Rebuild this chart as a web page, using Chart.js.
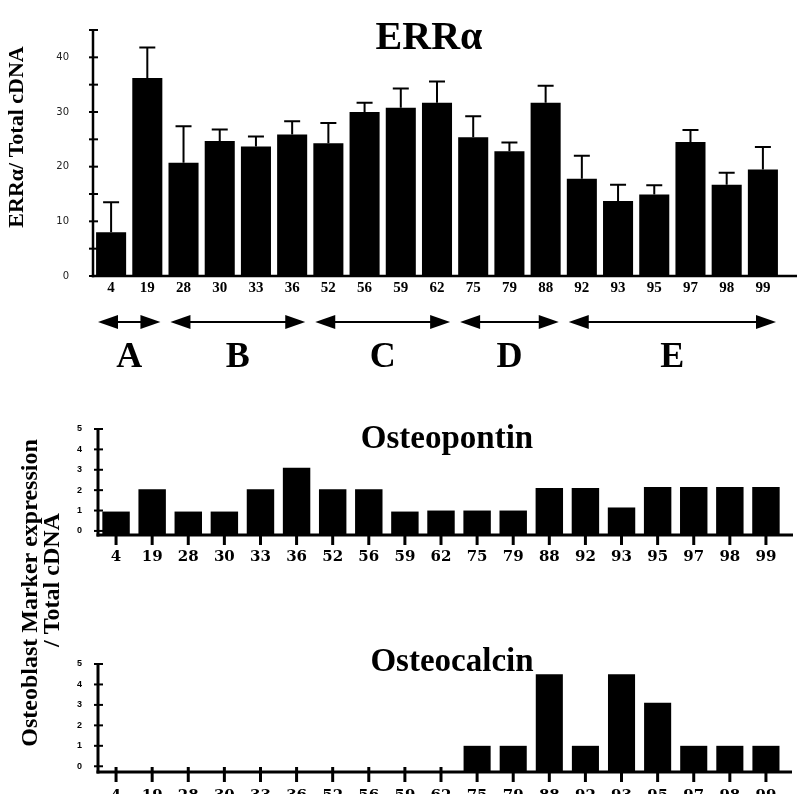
<!DOCTYPE html>
<html>
<head>
<meta charset="utf-8">
<script src="https://cdn.jsdelivr.net/npm/chart.js@4.4.0/dist/chart.umd.min.js"></script>
<style>
html,body{margin:0;padding:0;background:#fff;}
#wrap{position:relative;width:797px;height:794px;overflow:hidden;background:#fff;}
#wrap canvas{position:absolute;left:0;top:0;}
</style>
</head>
<body>
<div id="wrap">
<canvas id="c1" width="797" height="794"></canvas>
<canvas id="c2" width="797" height="794"></canvas>
<canvas id="c3" width="797" height="794"></canvas>
</div>
<script>
// ---------- data ----------
const clones = ['4','19','28','30','33','36','52','56','59','62','75','79','88','92','93','95','97','98','99'];
const errAlpha = [8.0,36.2,20.7,24.7,23.7,25.9,24.3,30.0,30.8,31.7,25.4,22.8,31.7,17.8,13.7,14.9,24.5,16.7,19.5];
const errAlphaSE = [5.5,5.6,6.7,2.1,1.8,2.4,3.7,1.7,3.5,3.9,3.8,1.6,3.1,4.2,3.0,1.7,2.2,2.2,4.1];
const osteopontin = [0.95,2.05,0.95,0.95,2.05,3.1,2.05,2.05,0.95,1.0,1.0,1.0,2.1,2.1,1.15,2.15,2.15,2.15,2.15];
const osteocalcin = [0,0,0,0,0,0,0,0,0,0,1,1,4.5,1,4.5,3.1,1,1,1];
const errTickValues = [0,5,10,15,20,25,30,35,40,45];
const errTickLabels = ['0','','10','','20','','30','','40',''];
const markerTickValues = [0,1,2,3,4,5];
const markerTickLabels = ['0','1','2','3','4','5'];
const groupNames = ['A','B','C','D','E'];
const groupFirst = [0,2,6,10,13];
const groupLast = [1,5,9,12,18];

const serif = "'Liberation Serif','Times New Roman',serif";

// ---------- decoration plugin (axes, ticks, error bars, arrows, texts) ----------
const deco = {
  id: 'deco',
  afterDraw(chart, args, o) {
    const ctx = chart.ctx, ca = chart.chartArea, xs = chart.scales.x, ys = chart.scales.y;
    ctx.save();
    ctx.strokeStyle = '#000'; ctx.fillStyle = '#000'; ctx.lineCap = 'butt';
    // error bars
    chart.data.datasets.forEach((ds, di) => {
      if (!ds.errorPlus) return;
      ctx.lineWidth = o.errWidth || 2;
      chart.getDatasetMeta(di).data.forEach((bar, i) => {
        const v = ds.data[i], e = ds.errorPlus[i];
        if (v == null || e == null) return;
        const p0 = ys.getPixelForValue(v), p1 = ys.getPixelForValue(v + e);
        ctx.beginPath();
        ctx.moveTo(bar.x, p0); ctx.lineTo(bar.x, p1);
        ctx.moveTo(bar.x - o.capHalf, p1); ctx.lineTo(bar.x + o.capHalf, p1);
        ctx.stroke();
      });
    });
    // axis lines
    const yTop = ys.getPixelForValue(ys.max);
    ctx.lineWidth = o.axisWidth;
    ctx.beginPath(); ctx.moveTo(ca.left, yTop); ctx.lineTo(ca.left, ca.bottom + o.axisWidth / 2); ctx.stroke();
    ctx.beginPath(); ctx.moveTo(ca.left - o.axisWidth / 2, ca.bottom); ctx.lineTo(o.xAxisTo, ca.bottom); ctx.stroke();
    // y ticks
    ctx.lineWidth = o.yTickWidth;
    ys.ticks.forEach(t => {
      const p = ys.getPixelForValue(t.value);
      ctx.beginPath(); ctx.moveTo(ca.left - o.yTickOut, p); ctx.lineTo(ca.left + o.yTickIn, p); ctx.stroke();
    });
    // x ticks
    if (o.xTickDown) {
      ctx.lineWidth = o.xTickWidth;
      xs.ticks.forEach((t, i) => {
        const p = xs.getPixelForValue(i);
        ctx.beginPath(); ctx.moveTo(p, ca.bottom - o.xTickUp); ctx.lineTo(p, ca.bottom + o.xTickDown); ctx.stroke();
      });
    }
    // group arrows
    if (o.groups) {
      const g = o.groups;
      g.names.forEach((n, k) => {
        const xa = xs.getPixelForValue(g.first[k] - 0.5) + g.gap;
        const xb = xs.getPixelForValue(g.last[k] + 0.5) - g.gap;
        const yy = g.y;
        ctx.lineWidth = 2;
        ctx.beginPath(); ctx.moveTo(xa + g.head * 0.5, yy); ctx.lineTo(xb - g.head * 0.5, yy); ctx.stroke();
        ctx.beginPath(); ctx.moveTo(xa, yy); ctx.lineTo(xa + g.head, yy - g.half); ctx.lineTo(xa + g.head, yy + g.half); ctx.closePath(); ctx.fill();
        ctx.beginPath(); ctx.moveTo(xb, yy); ctx.lineTo(xb - g.head, yy - g.half); ctx.lineTo(xb - g.head, yy + g.half); ctx.closePath(); ctx.fill();
        ctx.font = g.font; ctx.textAlign = 'center'; ctx.textBaseline = 'alphabetic';
        ctx.fillText(n, (xa + xb) / 2, g.labelY);
      });
    }
    // free texts
    (o.texts || []).forEach(t => {
      ctx.save();
      ctx.font = t.font; ctx.textAlign = 'center'; ctx.textBaseline = 'middle';
      ctx.translate(t.x, t.y); if (t.rotate) ctx.rotate(t.rotate);
      ctx.fillText(t.text, 0, 0);
      ctx.restore();
    });
    ctx.restore();
  }
};

function xScale(height, padding, font) {
  return {
    type: 'category', offset: true,
    afterFit(s) { s.height = height; },
    grid: { display: false, drawTicks: false }, border: { display: false },
    ticks: { padding: padding, font: font, color: '#000', maxRotation: 0, autoSkip: false }
  };
}

// ---------- chart 1: ERRalpha ----------
new Chart(document.getElementById('c1'), {
  type: 'bar',
  data: {
    labels: clones,
    datasets: [{ data: errAlpha, errorPlus: errAlphaSE, backgroundColor: '#000', borderWidth: 0,
                 barPercentage: 0.83, categoryPercentage: 1.0 }]
  },
  options: {
    responsive: false, animation: false,
    layout: { padding: { left: 0, top: 12, right: 16, bottom: 488 } },
    plugins: {
      legend: { display: false }, tooltip: { enabled: false },
      deco: {
        capHalf: 8, errWidth: 2, axisWidth: 2.5, xAxisTo: 797,
        yTickOut: 4, yTickIn: 5, yTickWidth: 2,
        groups: { names: groupNames, first: groupFirst, last: groupLast, gap: 5, head: 20, half: 7, y: 322,
                  labelY: 367, font: "bold 36px " + serif },
        texts: [
          { text: 'ERRα', x: 429, y: 39, font: "bold 40px " + serif },
          { text: 'ERRα/ Total cDNA', x: 17, y: 137, rotate: -Math.PI / 2, font: "bold 22px " + serif }
        ]
      }
    },
    scales: {
      x: xScale(30, 3, { family: serif, size: 15, weight: 'bold' }),
      y: {
        min: 0, max: 45,
        afterFit(s) { s.width = 93; },
        afterBuildTicks(s) { s.ticks = errTickValues.map(v => ({ value: v })); },
        grid: { display: false, drawTicks: false }, border: { display: false },
        ticks: { padding: 24, color: '#222', font: { family: "'DejaVu Sans',sans-serif", size: 10 },
                 callback: (v, i) => errTickLabels[i] }
      }
    }
  },
  plugins: [deco]
});

// ---------- chart 2: Osteopontin ----------
new Chart(document.getElementById('c2'), {
  type: 'bar',
  data: {
    labels: clones,
    datasets: [{ data: osteopontin, base: -0.2, backgroundColor: '#000', borderWidth: 0,
                 barPercentage: 0.76, categoryPercentage: 1.0 }]
  },
  options: {
    responsive: false, animation: false,
    layout: { padding: { left: 0, top: 429, right: 13, bottom: 219 } },
    plugins: {
      legend: { display: false }, tooltip: { enabled: false },
      deco: {
        axisWidth: 3, xAxisTo: 793,
        yTickOut: 4, yTickIn: 5, yTickWidth: 2,
        xTickUp: 0, xTickDown: 10, xTickWidth: 3,
        texts: [{ text: 'Osteopontin', x: 447, y: 439, font: "bold 33px " + serif }]
      }
    },
    scales: {
      x: xScale(40, 13, { family: "'DejaVu Serif',serif", size: 15, weight: 'bold' }),
      y: {
        min: -0.2, max: 5,
        afterFit(s) { s.width = 98; },
        afterBuildTicks(s) { s.ticks = markerTickValues.map(v => ({ value: v })); },
        grid: { display: false, drawTicks: false }, border: { display: false },
        ticks: { padding: 16, color: '#000', font: { family: "'Liberation Sans',Arial,sans-serif", size: 9, weight: 'bold' },
                 callback: (v, i) => markerTickLabels[i] }
      }
    }
  },
  plugins: [deco]
});

// ---------- chart 3: Osteocalcin ----------
new Chart(document.getElementById('c3'), {
  type: 'bar',
  data: {
    labels: clones,
    datasets: [{ data: osteocalcin.map(v => v === 0 ? null : v), base: -0.28, backgroundColor: '#000', borderWidth: 0,
                 barPercentage: 0.75, categoryPercentage: 1.0 }]
  },
  options: {
    responsive: false, animation: false,
    layout: { padding: { left: 0, top: 664, right: 13, bottom: 0 } },
    plugins: {
      legend: { display: false }, tooltip: { enabled: false },
      deco: {
        axisWidth: 3, xAxisTo: 792,
        yTickOut: 4, yTickIn: 5, yTickWidth: 2,
        xTickUp: 5, xTickDown: 10, xTickWidth: 3,
        texts: [
          { text: 'Osteocalcin', x: 452, y: 662, font: "bold 33px " + serif },
          { text: 'Osteoblast Marker expression', x: 31, y: 593, rotate: -Math.PI / 2, font: "bold 24px " + serif },
          { text: '/ Total cDNA', x: 53, y: 580, rotate: -Math.PI / 2, font: "bold 24px " + serif }
        ]
      }
    },
    scales: {
      x: xScale(22, 15, { family: "'DejaVu Serif',serif", size: 15, weight: 'bold' }),
      y: {
        min: -0.28, max: 5,
        afterFit(s) { s.width = 98; },
        afterBuildTicks(s) { s.ticks = markerTickValues.map(v => ({ value: v })); },
        grid: { display: false, drawTicks: false }, border: { display: false },
        ticks: { padding: 16, color: '#000', font: { family: "'Liberation Sans',Arial,sans-serif", size: 9, weight: 'bold' },
                 callback: (v, i) => markerTickLabels[i] }
      }
    }
  },
  plugins: [deco]
});
</script>
</body>
</html>
